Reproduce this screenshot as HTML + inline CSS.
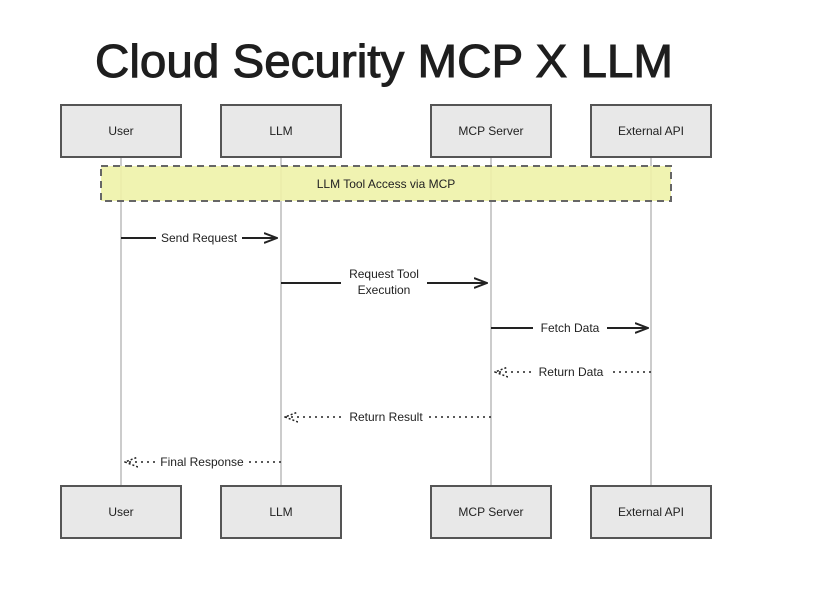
<!DOCTYPE html>
<html><head><style>html,body{margin:0;padding:0;background:#fff}svg{display:block}</style></head>
<body>
<svg width="817" height="614" viewBox="0 0 817 614" xmlns="http://www.w3.org/2000/svg" font-family="Liberation Sans, sans-serif">
<defs>
<marker id="a" markerWidth="14" markerHeight="12" refX="13" refY="6" orient="auto" markerUnits="userSpaceOnUse"><path d="M0,1 L13,6 L0,11" fill="none" stroke="#222" stroke-width="2"/></marker>
<marker id="b" markerWidth="14" markerHeight="12" refX="13" refY="6" orient="auto" markerUnits="userSpaceOnUse"><path d="M0,1 L13,6 L0,11" fill="none" stroke="#222" stroke-width="1.5" stroke-dasharray="2,2"/></marker>
</defs>
<text x="384" y="77" font-size="46" text-anchor="middle" fill="#1e1e1e" stroke="#1e1e1e" stroke-width="1" textLength="578" lengthAdjust="spacingAndGlyphs">Cloud Security MCP X LLM</text>
<g stroke="#aaa" stroke-width="1.2">
<line x1="121" y1="157" x2="121" y2="486"/><line x1="281" y1="157" x2="281" y2="486"/>
<line x1="491" y1="157" x2="491" y2="486"/><line x1="651" y1="157" x2="651" y2="486"/>
</g>
<rect x="101" y="166" width="570" height="35" fill="#eef2a8" fill-opacity="0.9" stroke="#666" stroke-width="2" stroke-dasharray="7,5"/>
<text x="386" y="188" font-size="12" text-anchor="middle" fill="#222">LLM Tool Access via MCP</text>
<g fill="#e8e8e8" stroke="#555" stroke-width="2">
<rect x="61" y="105" width="120" height="52"/><rect x="221" y="105" width="120" height="52"/>
<rect x="431" y="105" width="120" height="52"/><rect x="591" y="105" width="120" height="52"/>
<rect x="61" y="486" width="120" height="52"/><rect x="221" y="486" width="120" height="52"/>
<rect x="431" y="486" width="120" height="52"/><rect x="591" y="486" width="120" height="52"/>
</g>
<g font-size="12" text-anchor="middle" fill="#222">
<text x="121" y="135">User</text><text x="281" y="135">LLM</text><text x="491" y="135">MCP Server</text><text x="651" y="135">External API</text>
<text x="121" y="516">User</text><text x="281" y="516">LLM</text><text x="491" y="516">MCP Server</text><text x="651" y="516">External API</text>
</g>
<g stroke="#222" stroke-width="2" fill="none">
<line x1="121" y1="238" x2="277" y2="238" marker-end="url(#a)"/>
<line x1="281" y1="283" x2="487" y2="283" marker-end="url(#a)"/>
<line x1="491" y1="328" x2="648" y2="328" marker-end="url(#a)"/>
</g>
<g stroke="#222" stroke-width="1.5" fill="none" stroke-dasharray="2,4">
<line x1="651" y1="372" x2="495" y2="372" marker-end="url(#b)"/>
<line x1="491" y1="417" x2="285" y2="417" marker-end="url(#b)"/>
<line x1="281" y1="462" x2="125" y2="462" marker-end="url(#b)"/>
</g>
<g font-size="12" text-anchor="middle" fill="#222">
<rect x="156" y="229" width="86" height="16" fill="#fff"/><text x="199" y="242">Send Request</text>
<rect x="341" y="266" width="86" height="32" fill="#fff"/><text x="384" y="278">Request Tool</text><text x="384" y="294">Execution</text>
<rect x="533" y="319" width="74" height="16" fill="#fff"/><text x="570" y="332">Fetch Data</text>
<rect x="531" y="363" width="80" height="16" fill="#fff"/><text x="571" y="376">Return Data</text>
<rect x="343" y="408" width="86" height="16" fill="#fff"/><text x="386" y="421">Return Result</text>
<rect x="156" y="453" width="92" height="16" fill="#fff"/><text x="202" y="466">Final Response</text>
</g>
</svg>
</body></html>
